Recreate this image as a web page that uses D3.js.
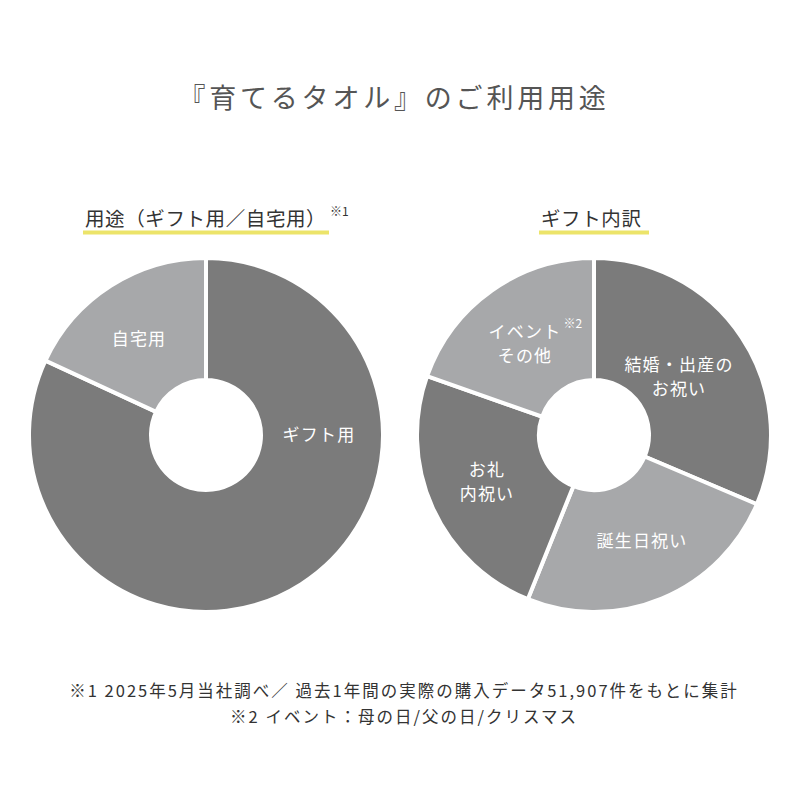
<!DOCTYPE html>
<html><head><meta charset="utf-8">
<script src="https://cdn.jsdelivr.net/npm/d3@7"></script>
<style>
html,body{margin:0;padding:0;background:#fff;}
text{font-family:"Noto Sans CJK JP","Noto Sans",sans-serif;}
</style></head>
<body>
<script>
// ---- data ----
const title = "『育てるタオル』のご利用用途";
const leftTitle = "用途（ギフト用／自宅用）";
const leftNote = "※1";
const rightTitle = "ギフト内訳";
const leftCategories = ["ギフト用", "自宅用"];
const leftValues = [81.9, 18.1];
const rightCategories = ["結婚・出産のお祝い", "誕生日祝い", "お礼内祝い", "イベントその他"];
const rightValues = [31.4, 24.7, 24.3, 19.6];
const leftLabelLines = [["ギフト用"], ["自宅用"]];
const rightLabelLines = [["結婚・出産の", "お祝い"], ["誕生日祝い"], ["お礼", "内祝い"], ["イベント", "その他"]];
const rightLabelNotes = ["", "", "", "※2"];
const footnotes = ["※1 2025年5月当社調べ／ 過去1年間の実際の購入データ51,907件をもとに集計",
                   "※2 イベント：母の日/父の日/クリスマス"];

// ---- layout ----
const W = 800, H = 800;
const svg = d3.select("body").append("svg").attr("width", W).attr("height", H);
const DARK = "#7b7b7b", LIGHT = "#a7a8aa", YELLOW = "#ece46a", TEXT = "#555";
const R = 177, r0 = 55;

svg.append("text").attr("x", 394).attr("y", 96)
  .attr("text-anchor", "middle").attr("dominant-baseline", "central")
  .attr("font-size", 27).attr("letter-spacing", 3.8).attr("fill", TEXT).text(title);

function subtitle(x0, x1, cy, txt, note) {
  svg.append("text").attr("x", x0 + 2).attr("y", cy)
    .attr("dominant-baseline", "central").attr("font-size", 19.5)
    .attr("letter-spacing", 0.6).attr("fill", "#333").text(txt);
  if (note) svg.append("text").attr("x", x1 + 1).attr("y", cy - 7)
    .attr("dominant-baseline", "central").attr("font-size", 12).attr("fill", "#333").text(note);
  svg.append("rect").attr("x", x0).attr("y", 230.5).attr("width", x1 - x0).attr("height", 4).attr("fill", YELLOW);
}
subtitle(83, 329, 217, leftTitle, leftNote);
subtitle(539, 649, 217, rightTitle, null);

const colorL = d3.scaleOrdinal().domain(leftCategories).range([DARK, LIGHT]);
const colorR = d3.scaleOrdinal().domain(rightCategories).range([DARK, LIGHT, DARK, LIGHT]);

function donut(cx, cy, cats, vals, color, labelPos, lines, notes) {
  const g = svg.append("g").attr("transform", `translate(${cx},${cy})`);
  const pie = d3.pie().sort(null).value(d => d.v);
  const arc = d3.arc().innerRadius(r0).outerRadius(R);
  const data = cats.map((c, i) => ({c, v: vals[i]}));
  g.selectAll("path").data(pie(data)).join("path")
    .attr("d", arc).attr("fill", d => color(d.data.c))
    .attr("stroke", "#fff").attr("stroke-width", 4).attr("stroke-linejoin", "miter");
  lines.forEach((ls, i) => {
    const [lx, ly] = labelPos[i];
    const t = g.append("text").attr("text-anchor", "middle").attr("fill", "#fff")
      .attr("font-size", 17).attr("letter-spacing", 1.2);
    ls.forEach((s, j) => {
      t.append("tspan").attr("x", lx).attr("y", ly + j * 24.5).attr("dominant-baseline", "central").text(s);
    });
    if (notes && notes[i]) {
      const w0 = ls[0].length * 18.2;
      g.append("text").attr("x", lx + w0 / 2 + 2).attr("y", ly - 8).attr("fill", "#fff")
        .attr("font-size", 12).attr("dominant-baseline", "central").text(notes[i]);
    }
  });
}
donut(206, 435, leftCategories, leftValues, colorL, [[113, -2], [-67, -98]], leftLabelLines);
donut(594, 435, rightCategories, rightValues, colorR,
  [[85, -72], [48, 104], [-107, 33], [-69, -105]], rightLabelLines, rightLabelNotes);

footnotes.forEach((f, i) => {
  svg.append("text").attr("x", 404).attr("y", 690 + i * 26)
    .attr("text-anchor", "middle").attr("dominant-baseline", "central")
    .attr("font-size", 16.5).attr("letter-spacing", 2).attr("fill", "#333").text(f);
});
</script>
</body></html>
